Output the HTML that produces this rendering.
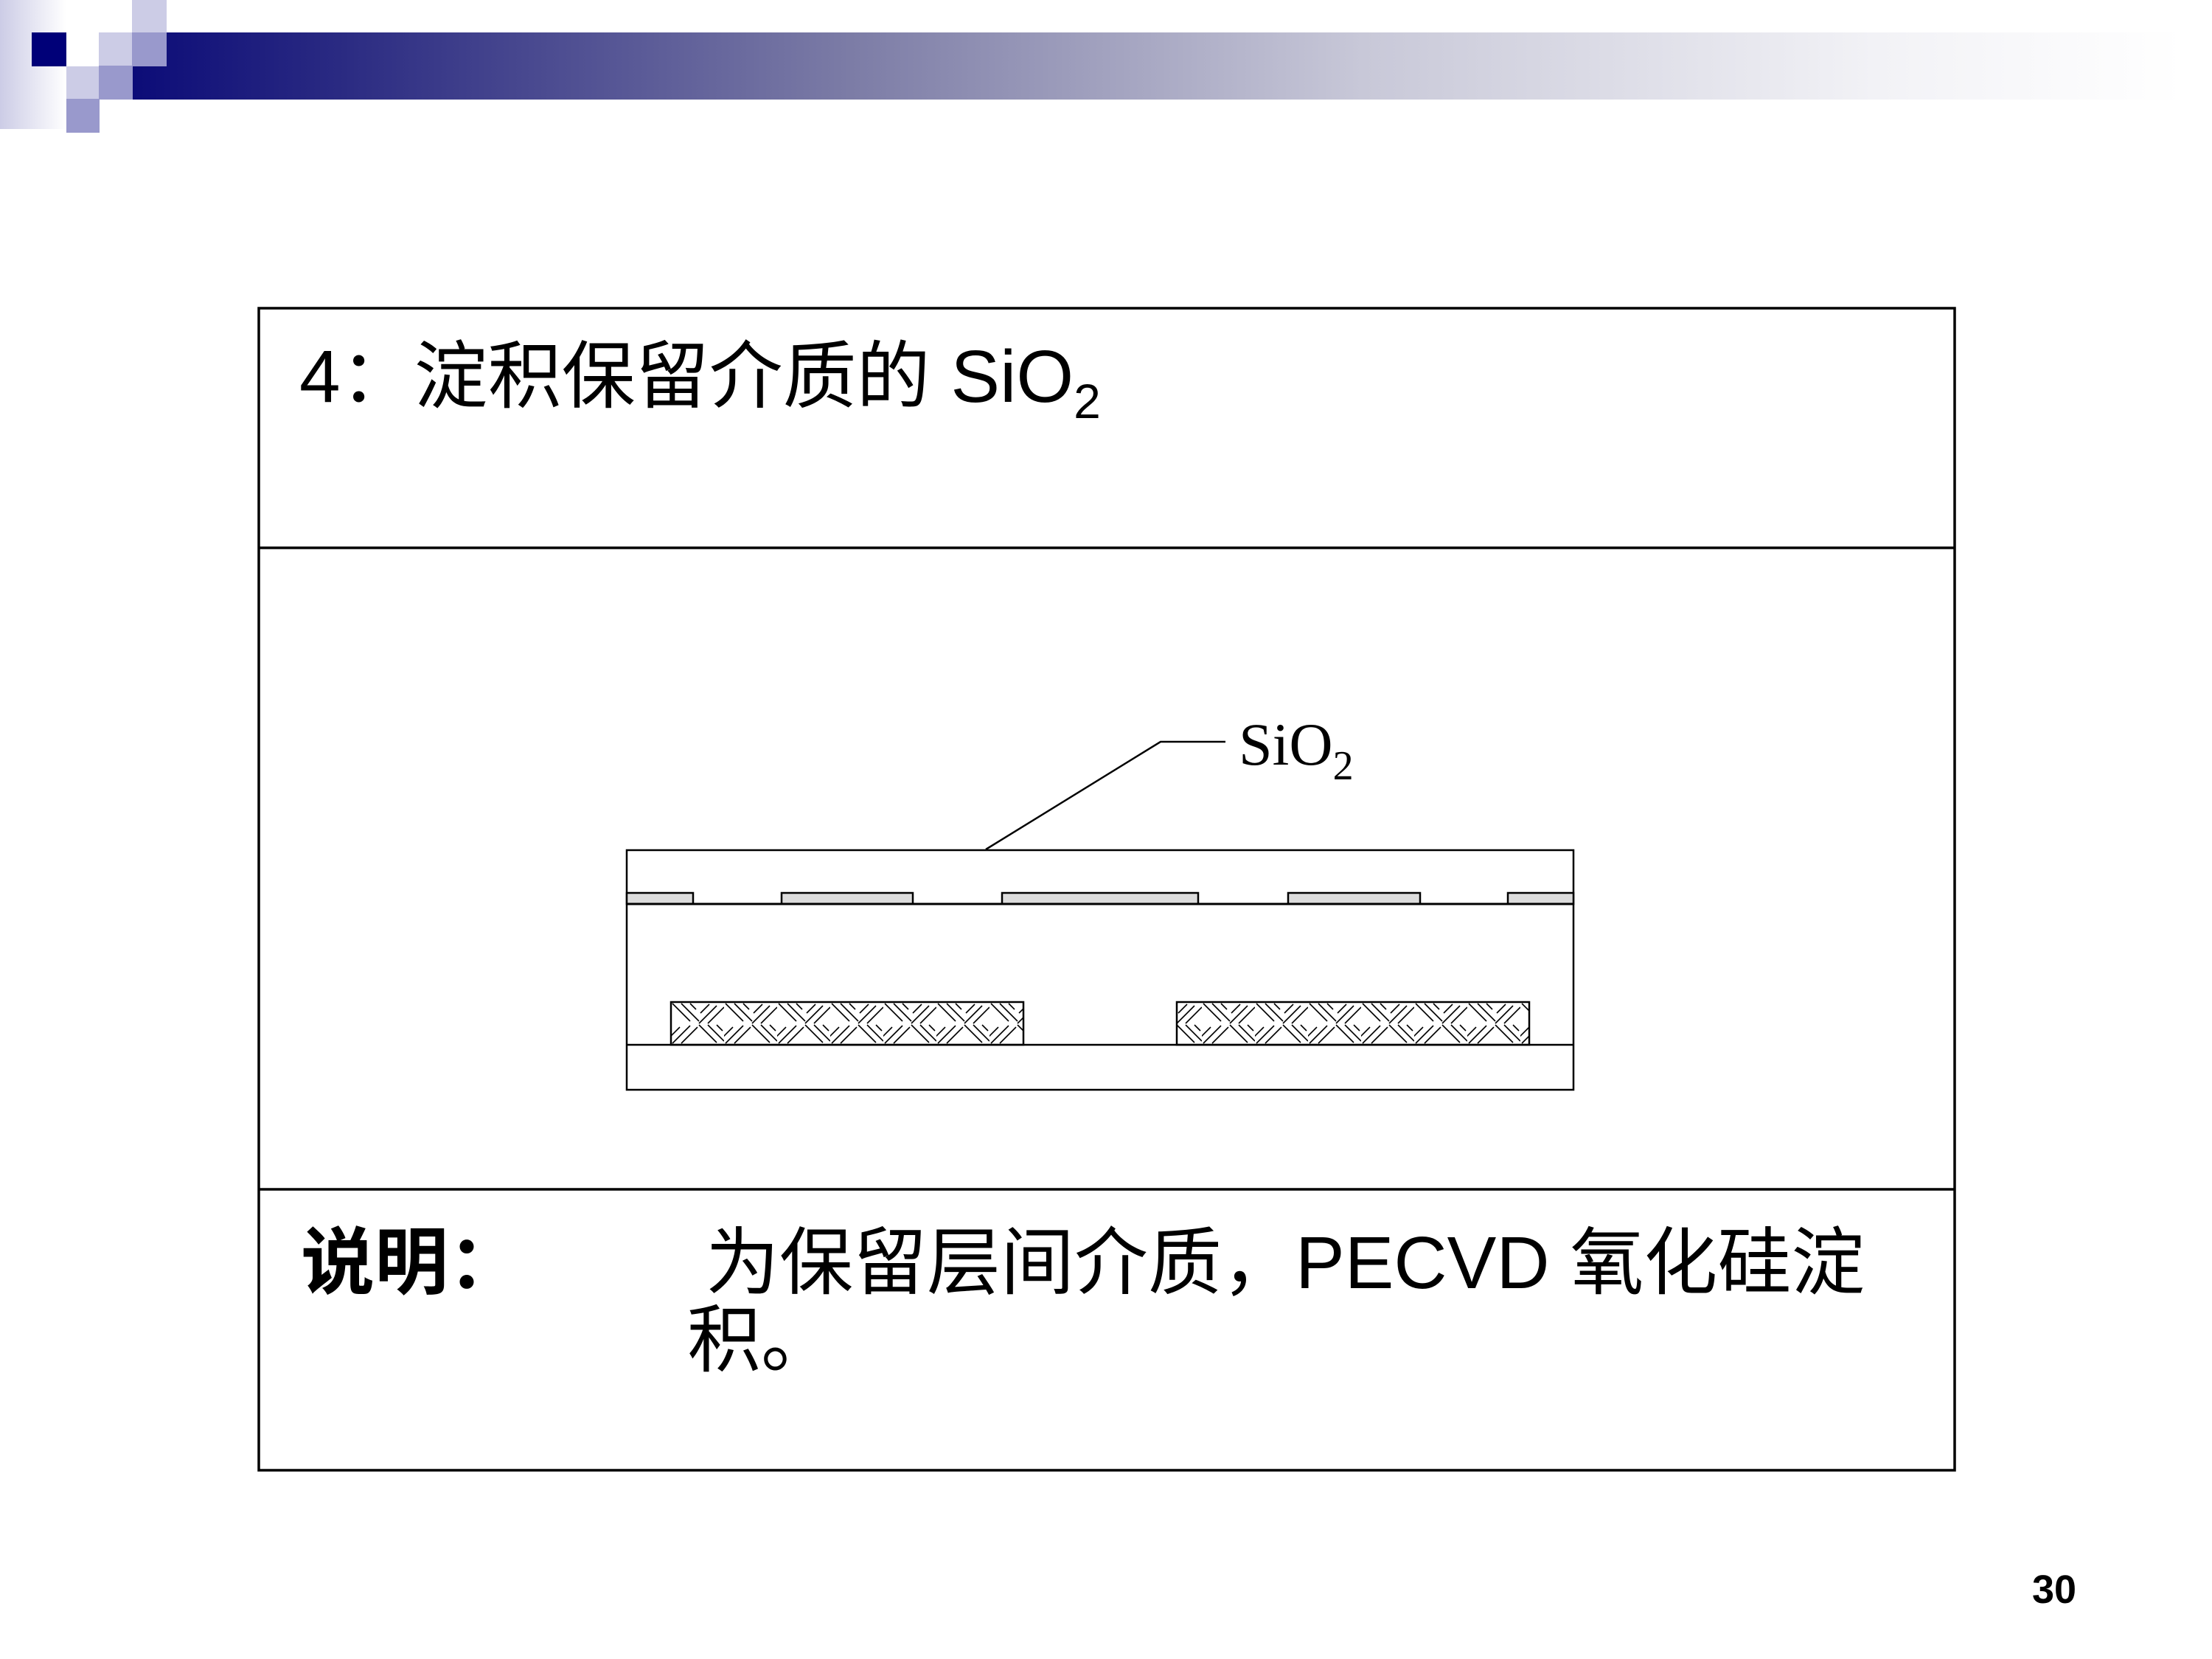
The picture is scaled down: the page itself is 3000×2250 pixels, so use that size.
<!DOCTYPE html>
<html><head><meta charset="utf-8"><style>
html,body{margin:0;padding:0;background:#fff;}
svg{display:block;}
</style></head><body>
<svg width="3000" height="2250" viewBox="0 0 3000 2250" xmlns="http://www.w3.org/2000/svg">
<defs>
<linearGradient id="col" x1="0" x2="1" y1="0" y2="0"><stop offset="0" stop-color="#ccccE6"/><stop offset="1" stop-color="#ffffff"/></linearGradient>
<linearGradient id="bar" x1="0" x2="1" y1="0" y2="0">
<stop offset="0" stop-color="#0c0c78"/><stop offset="0.1" stop-color="#2a2a82"/><stop offset="0.35" stop-color="#7c7ca6"/><stop offset="0.6" stop-color="#c8c8d8"/><stop offset="0.85" stop-color="#f2f2f6"/><stop offset="1" stop-color="#ffffff"/></linearGradient>
<pattern id="hatch" x="910" y="1359" width="72" height="58" patternUnits="userSpaceOnUse">
<g stroke="#000" stroke-width="1.6" fill="none">
<line x1="2" y1="2" x2="26" y2="26"/><line x1="14" y1="2" x2="38" y2="26"/><line x1="26" y1="2" x2="34" y2="10"/>
<line x1="38" y1="29" x2="62" y2="5"/><line x1="50" y1="29" x2="72" y2="7"/><line x1="40" y1="15" x2="52" y2="3"/>
<line x1="2" y1="56" x2="26" y2="32"/><line x1="14" y1="56" x2="36" y2="34"/><line x1="-10" y1="56" x2="12" y2="34"/>
<line x1="38" y1="31" x2="62" y2="55"/><line x1="50" y1="31" x2="72" y2="53"/><line x1="62" y1="31" x2="70" y2="39"/>
</g></pattern>
</defs>
<!-- logo -->
<rect x="0" y="0" width="90" height="175" fill="url(#col)"/>
<rect x="180" y="44" width="2780" height="91" fill="url(#bar)"/>
<rect x="43" y="44" width="47" height="46" fill="#000078"/>
<rect x="90" y="90" width="45" height="44" fill="#ccccE6"/>
<rect x="134" y="44" width="46" height="45" fill="#ccccE6"/>
<rect x="179" y="0" width="47" height="44" fill="#ccccE6"/>
<rect x="179" y="44" width="47" height="46" fill="#9999cc"/>
<rect x="134" y="89" width="46" height="46" fill="#9999cc"/>
<rect x="90" y="134" width="45" height="46" fill="#9999cc"/>
<!-- box -->
<g stroke="#000" stroke-width="3.5" fill="none">
<rect x="351" y="418" width="2300" height="1576"/>
<line x1="351" y1="743" x2="2651" y2="743"/>
<line x1="351" y1="1613" x2="2651" y2="1613"/>
</g>
<text x="406" y="545" font-family="'Liberation Sans','Noto Sans CJK SC',sans-serif" font-size="100">4：淀积保留介质的 SiO<tspan font-size="66" dy="22">2</tspan></text>
<text x="408" y="1747" font-family="'Liberation Sans','Noto Sans CJK SC',sans-serif" font-size="100" font-weight="bold">说明：</text>
<text x="957" y="1747" font-family="'Liberation Sans','Noto Sans CJK SC',sans-serif" font-size="100">为保留层间介质，PECVD 氧化硅淀</text>
<text x="932" y="1852" font-family="'Liberation Sans','Noto Sans CJK SC',sans-serif" font-size="100">积。</text>
<text x="2756" y="2174" font-family="'Liberation Sans',sans-serif" font-size="54" font-weight="bold">30</text>
<!-- diagram -->
<g stroke="#000" stroke-width="2.5">
<rect x="850" y="1153" width="1284" height="325" fill="#fff"/>
<rect x="850" y="1211" width="90" height="15" fill="#dcdcdc"/>
<rect x="1060" y="1211" width="178" height="15" fill="#dcdcdc"/>
<rect x="1359" y="1211" width="266" height="15" fill="#dcdcdc"/>
<rect x="1747" y="1211" width="179" height="15" fill="#dcdcdc"/>
<rect x="2045" y="1211" width="89" height="15" fill="#dcdcdc"/>
<line x1="850" y1="1226" x2="2134" y2="1226" stroke-width="3"/>
<rect x="910" y="1359" width="478" height="58" fill="url(#hatch)"/>
<rect x="1596" y="1359" width="478" height="58" fill="url(#hatch)"/>
<line x1="850" y1="1417" x2="2134" y2="1417"/>
<polyline points="1337,1152 1574,1006 1662,1006" fill="none"/>
</g>
<text x="1680" y="1037" font-family="'Liberation Serif',serif" font-size="82">SiO<tspan font-size="56" dy="20">2</tspan></text>
</svg>
</body></html>
